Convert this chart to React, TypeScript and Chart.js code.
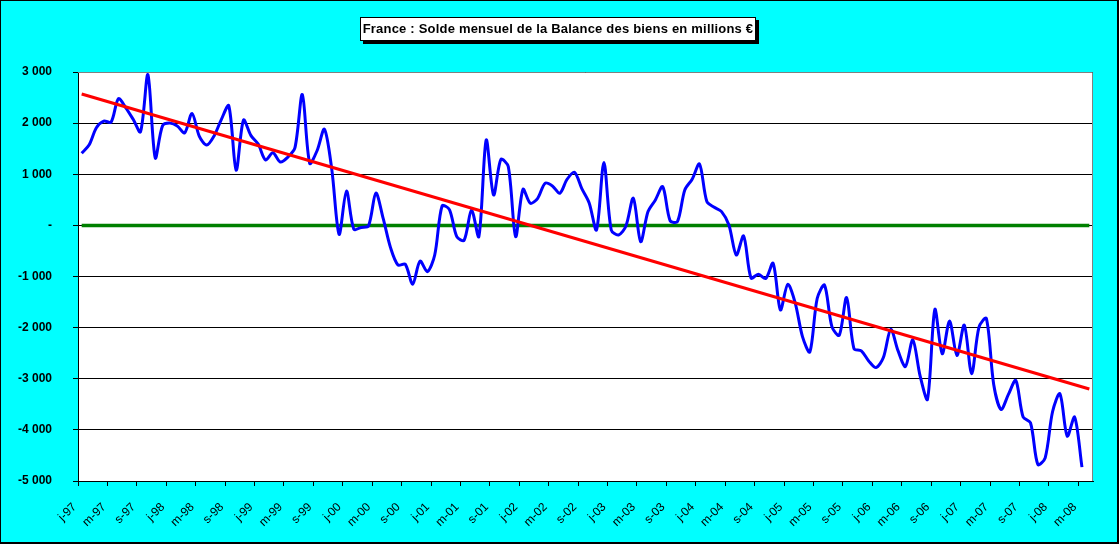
import { useEffect, useRef } from 'react';
import { Chart, registerables } from 'chart.js';
import type { Plugin } from 'chart.js';

Chart.register(...registerables);

// French month initials, used for the category labels (j-97, f-97, m-97 ...)
const monthInitials = ['j', 'f', 'm', 'a', 'm', 'j', 'j', 'a', 's', 'o', 'n', 'd'];
const years = ['97', '98', '99', '00', '01', '02', '03', '04', '05', '06', '07', '08'];
const monthCount = 138; // janvier 1997 -> juin 2008
const categories = years
  .flatMap((y) => monthInitials.map((m) => `${m}-${y}`))
  .slice(0, monthCount);

// Monthly balance of goods, millions €
const balance1997 = [1410, 1570, 1910, 2040, 2020, 2480, 2300, 2075, 1830, 2950, 1320, 1950];
const balance1998 = [2000, 1945, 1810, 2190, 1740, 1570, 1750, 2075, 2340, 1080, 2060, 1760];
const balance1999 = [1590, 1280, 1420, 1240, 1330, 1520, 2560, 1215, 1460, 1880, 1100, -175];
const balance2000 = [670, -75, -40, -10, 630, 130, -440, -775, -760, -1150, -700, -905];
const balance2001 = [-580, 380, 310, -220, -290, 300, -220, 1670, 595, 1290, 1150, -220];
const balance2002 = [706, 432, 530, 823, 771, 628, 902, 1040, 720, 440, -90, 1228];
const balance2003 = [-90, -187, -11, 530, -318, 269, 498, 758, 93, 74, 693, 902];
const balance2004 = [1200, 465, 354, 269, 8, -579, -207, -1030, -955, -1040, -740, -1653];
const balance2005 = [-1151, -1510, -2175, -2475, -1431, -1170, -1979, -2149, -1412, -2410, -2455, -2651];
const balance2006 = [-2782, -2586, -2032, -2455, -2762, -2240, -2950, -3400, -1644, -2511, -1872, -2544];
const balance2007 = [-1950, -2902, -1989, -1820, -3111, -3600, -3307, -3033, -3750, -3861, -4677, -4546];
const balance2008 = [-3646, -3294, -4122, -3750, -4729, null];

const balance = [
  ...balance1997, ...balance1998, ...balance1999, ...balance2000,
  ...balance2001, ...balance2002, ...balance2003, ...balance2004,
  ...balance2005, ...balance2006, ...balance2007, ...balance2008,
];

// linear trend (read at first and last month) and the zero line
const trendStart = 2570;
const trendEnd = -3200;
const zeroStart = 0;
const zeroEnd = 0;

const yMin = -5000;
const yMax = 3000;
const yStep = 1000;

const font = '"Liberation Sans", Arial, sans-serif';

function endpoints(first: number, last: number) {
  return categories.map((_, i) => (i === 0 ? first : i === categories.length - 1 ? last : null));
}

function formatThousands(v: number) {
  if (v === 0) return '-';
  const s = String(Math.abs(v)).replace(/\B(?=(\d{3})+(?!\d))/g, ' ');
  return v < 0 ? '-' + s : s;
}

const plotArea: Plugin<'line'> = {
  id: 'plotArea',
  beforeDraw(chart) {
    const { ctx, chartArea } = chart;
    ctx.save();
    ctx.fillStyle = '#ffffff';
    ctx.fillRect(chartArea.left, chartArea.top, chartArea.width, chartArea.height);
    ctx.restore();
  },
  afterDatasetsDraw(chart) {
    const { ctx, chartArea } = chart;
    ctx.save();
    ctx.strokeStyle = '#808080';
    ctx.lineWidth = 1;
    ctx.beginPath();
    ctx.moveTo(chartArea.left, chartArea.top + 0.5);
    ctx.lineTo(chartArea.right - 0.5, chartArea.top + 0.5);
    ctx.lineTo(chartArea.right - 0.5, chartArea.bottom);
    ctx.stroke();
    ctx.restore();
  },
};

function BalanceChart() {
  const chartRef = useRef<HTMLCanvasElement>(null);
  const chartInstance = useRef<Chart | null>(null);

  useEffect(() => {
    if (!chartRef.current) return;
    if (chartInstance.current) {
      chartInstance.current.destroy();
    }
    const ctx = chartRef.current.getContext('2d');
    if (!ctx) return;

    chartInstance.current = new Chart(ctx, {
      type: 'line',
      data: {
        labels: categories,
        datasets: [
          {
            label: 'Tendance',
            data: endpoints(trendStart, trendEnd),
            borderColor: '#ff0000',
            borderWidth: 3,
            pointRadius: 0,
            spanGaps: true,
            tension: 0,
            order: 0,
          },
          {
            label: 'Solde mensuel',
            data: balance,
            borderColor: '#0000ff',
            borderWidth: 3,
            pointRadius: 0,
            tension: 0.3,
            order: 1,
          },
          {
            label: 'Zéro',
            data: endpoints(zeroStart, zeroEnd),
            borderColor: '#008000',
            borderWidth: 3.5,
            pointRadius: 0,
            spanGaps: true,
            tension: 0,
            order: 2,
          },
        ],
      },
      options: {
        responsive: false,
        animation: false,
        layout: {
          padding: { top: 72, right: 26, left: 0, bottom: 0 },
        },
        plugins: {
          legend: { display: false },
          tooltip: { enabled: false },
          title: { display: false },
        },
        scales: {
          x: {
            type: 'category',
            offset: true,
            afterFit(scale) {
              scale.height = 63;
            },
            grid: {
              offset: true,
              drawOnChartArea: false,
              drawTicks: true,
              tickLength: 5,
              color: (c) => (c.index % 4 === 0 ? '#000000' : 'rgba(0,0,0,0)'),
            },
            border: { color: '#000000', width: 1 },
            ticks: {
              autoSkip: false,
              minRotation: 45,
              maxRotation: 45,
              padding: 14,
              labelOffset: -7,
              color: '#000000',
              font: { family: font, size: 12 },
              callback: (_v, index) => (index % 4 === 0 ? categories[index] : ''),
            },
          },
          y: {
            min: yMin,
            max: yMax,
            afterFit(scale) {
              scale.width = 78;
            },
            grid: {
              color: '#000000',
              lineWidth: 1,
              tickLength: 5,
            },
            border: { color: '#000000', width: 1 },
            ticks: {
              stepSize: yStep,
              padding: 21,
              color: '#000000',
              font: { family: font, size: 12, weight: 'bold' },
              callback: (v) => formatThousands(Number(v)),
            },
          },
        },
      },
      plugins: [plotArea],
    });

    return () => {
      if (chartInstance.current) {
        chartInstance.current.destroy();
        chartInstance.current = null;
      }
    };
  }, []);

  return <canvas ref={chartRef} width={1119} height={544} style={{ position: 'absolute', left: 0, top: 0 }} />;
}

export default function App() {
  return (
    <div
      style={{
        position: 'absolute',
        left: 0,
        top: 0,
        width: 1119,
        height: 544,
        background: '#00ffff',
        overflow: 'hidden',
      }}
    >
      <BalanceChart />
      <div
        style={{
          position: 'absolute',
          left: 360,
          top: 17,
          width: 396,
          height: 24,
          boxSizing: 'border-box',
          background: '#ffffff',
          border: '1px solid #000000',
          boxShadow: '3px 3px 0 #000000',
          fontFamily: font,
          fontWeight: 'bold',
          fontSize: 13,
          letterSpacing: '0.2px',
          lineHeight: '22px',
          textAlign: 'center',
          whiteSpace: 'nowrap',
          color: '#000000',
        }}
      >
        France : Solde mensuel de la Balance des biens en millions €
      </div>
      <div
        style={{
          position: 'absolute',
          inset: 0,
          boxSizing: 'border-box',
          borderLeft: '1px solid #000000',
          borderTop: '1px solid #000000',
          borderRight: '2px solid #000000',
          borderBottom: '2px solid #000000',
          pointerEvents: 'none',
        }}
      />
    </div>
  );
}
